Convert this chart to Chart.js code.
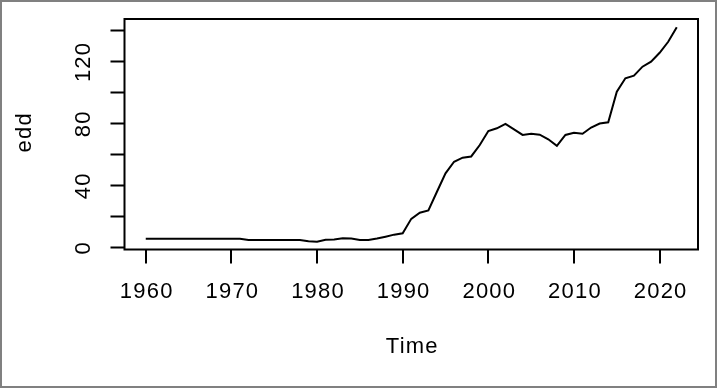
<!DOCTYPE html>
<html>
<head>
<meta charset="utf-8">
<script src="https://cdn.jsdelivr.net/npm/chart.js@4/dist/chart.umd.min.js"></script>
<style>
  body { margin: 0; background: #fff; }
  #wrap { width: 718px; height: 390px; }
</style>
</head>
<body>
<div id="wrap"><canvas id="myChart" width="718" height="390"></canvas></div>
<script>
// yearly series, 1960 - 2022
const years = [
  1960, 1961, 1962, 1963, 1964, 1965, 1966, 1967, 1968, 1969,
  1970, 1971, 1972, 1973, 1974, 1975, 1976, 1977, 1978, 1979,
  1980, 1981, 1982, 1983, 1984, 1985, 1986, 1987, 1988, 1989,
  1990, 1991, 1992, 1993, 1994, 1995, 1996, 1997, 1998, 1999,
  2000, 2001, 2002, 2003, 2004, 2005, 2006, 2007, 2008, 2009,
  2010, 2011, 2012, 2013, 2014, 2015, 2016, 2017, 2018, 2019,
  2020, 2021, 2022
]
const edd = [
  5.2, 5.2, 5.2, 5.2, 5.2, 5.2, 5.2, 5.2, 5.2, 5.2,
  5.2, 5.2, 4.3, 4.3, 4.3, 4.3, 4.3, 4.3, 4.3, 3.5,
  3.2, 4.5, 4.7, 5.4, 5.3, 4.3, 4.4, 5.3, 6.5, 7.8,
  8.7, 18, 22, 23.4, 35.5, 47.4, 54.9, 57.5, 58.3, 65.7,
  74.7, 76.5, 79.3, 75.8, 72.2, 73, 72.4, 69.4, 65.2, 72.2,
  73.6, 73, 77, 79.6, 80.4, 100.1, 108.8, 110.5, 116.3, 119.5,
  125.3, 132.4, 141.7
]

const xTicks = [1960, 1970, 1980, 1990, 2000, 2010, 2020]
const yTicks = [0, 20, 40, 60, 80, 100, 120, 140]
const yLabels = [0, 40, 80, 120]

const xTitle = 'Time'
const yTitle = 'edd'

// R style frame, ticks and labels
const rAxes = {
  id: 'rAxes',
  afterDraw(chart) {
    const ctx = chart.ctx
    const a = chart.chartArea
    const xs = chart.scales.x
    const ys = chart.scales.y
    ctx.save()
    ctx.strokeStyle = '#000'
    ctx.fillStyle = '#000'
    ctx.lineWidth = 2
    ctx.strokeRect(a.left, a.top, a.right - a.left, a.bottom - a.top)

    ctx.beginPath()
    xTicks.forEach(function(t) {
      const px = Math.round(xs.getPixelForValue(t))
      ctx.moveTo(px, a.bottom)
      ctx.lineTo(px, a.bottom + 14)
    })
    yTicks.forEach(function(t) {
      const py = Math.round(ys.getPixelForValue(t)) + 0.5
      ctx.moveTo(a.left, py)
      ctx.lineTo(a.left - 14, py)
    })
    ctx.stroke()

    ctx.font = '22px "Liberation Sans", Arial, sans-serif'
    ctx.letterSpacing = '1.2px'
    ctx.textAlign = 'center'
    ctx.textBaseline = 'alphabetic'
    xTicks.forEach(function(t) {
      ctx.fillText(String(t), xs.getPixelForValue(t) + 1, 297.5)
    })
    yLabels.forEach(function(t) {
      ctx.save()
      ctx.translate(89.5, ys.getPixelForValue(t) + 1)
      ctx.rotate(-Math.PI / 2)
      ctx.fillText(String(t), 0, 0)
      ctx.restore()
    })

    ctx.font = '22px "Liberation Sans", Arial, sans-serif'
    ctx.fillText(xTitle, (a.left + a.right) / 2 + 1, 352.5)
    ctx.save()
    ctx.translate(31, (a.top + a.bottom) / 2 - 2)
    ctx.rotate(-Math.PI / 2)
    ctx.fillText(yTitle, 0, 0)
    ctx.restore()

    // outer frame of the picture
    ctx.letterSpacing = '0px'
    ctx.strokeStyle = '#808080'
    ctx.strokeRect(1, 1, 715, 386)
    ctx.restore()
  }
}

let points = years.map(function(yr, i) { return { x: yr, y: edd[i] } })

let config = {
  type: 'line',
  data: {
    datasets: [{
      label: 'edd',
      data: points,
      borderColor: '#000',
      borderWidth: 2,
      pointRadius: 0,
      tension: 0,
      fill: false
    }]
  },
  options: {
    responsive: false,
    animation: false,
    layout: { padding: { left: 124.5, right: 20, top: 19, bottom: 140.5 } },
    plugins: { legend: { display: false }, tooltip: { enabled: false } },
    scales: {
      x: { type: 'linear', min: 1957.52, max: 2024.48, display: false },
      y: { type: 'linear', min: -1.8, max: 147.1, display: false }
    }
  },
  plugins: [rAxes]
}

var chart = new Chart(document.getElementById('myChart'), config)
</script>
</body>
</html>
